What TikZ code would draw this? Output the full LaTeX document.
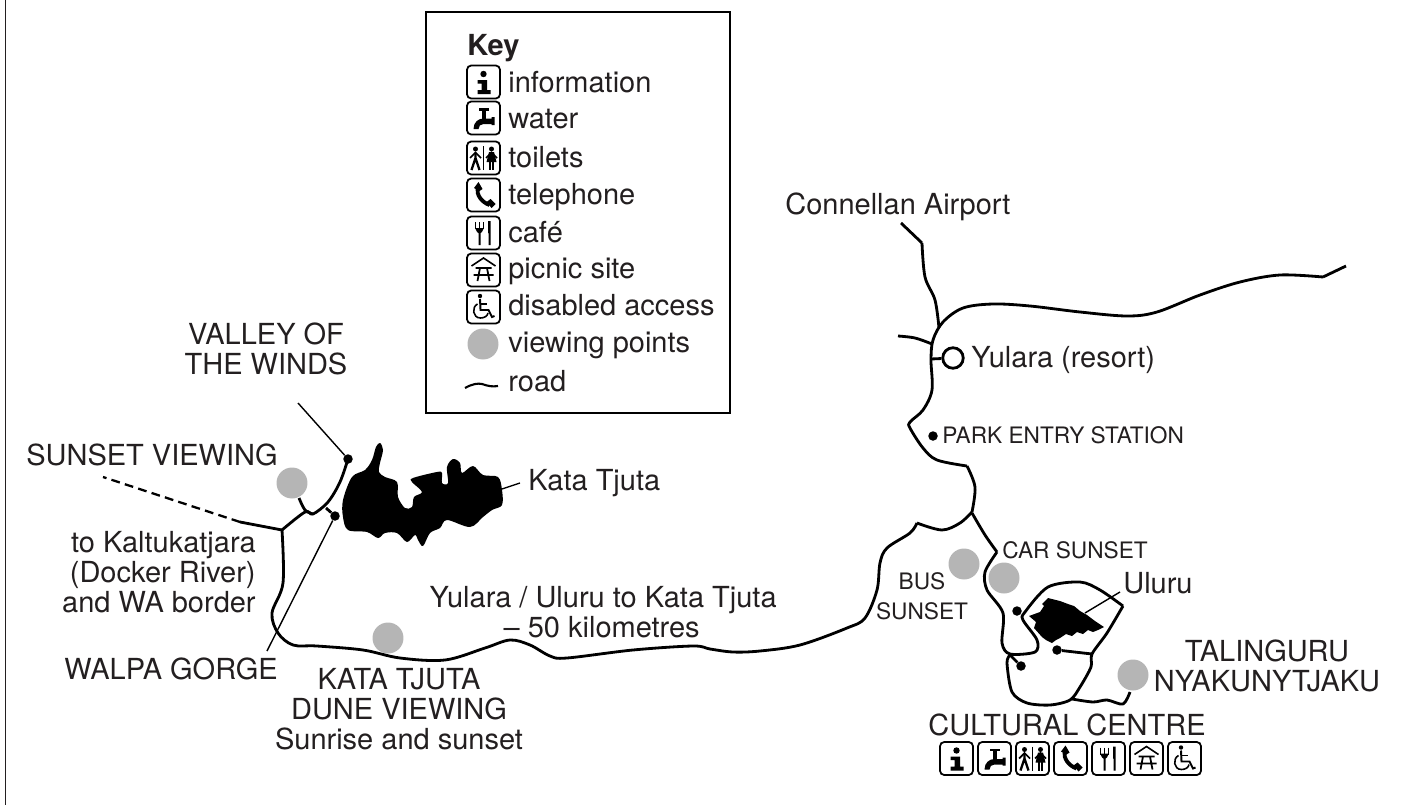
\documentclass[tikz,border=0pt]{standalone}
\usepackage{fontspec}
\setmainfont{TeX Gyre Heros}
\definecolor{inkc}{HTML}{231F20}
\definecolor{viewc}{HTML}{B5B5B5}

\tikzset{
  lbl/.style={inner sep=0pt, text=inkc, font=\fontsize{16.5}{17}\selectfont},
  lblsmall/.style={inner sep=0pt, text=inkc, font=\fontsize{12.9}{17}\selectfont},
  road/.style={line width=1.6pt, black, line join=round},
  leader/.style={line width=.8pt, black},
  viewpt/.style={circle, fill=viewc, inner sep=0pt, minimum size=.62cm},
  dotpt/.style={circle, fill=black, inner sep=0pt, minimum size=.19cm},
  iconframe/.style={line width=1pt, rounded corners=2.4pt},
  pics/iconinfo/.style={code={
    \draw[iconframe] (-16.5,-16.5) rectangle (16.5,16.5);
    \fill (0,-8) circle [radius=3.2];
    \fill (-6,-2) -- (3.5,-2) -- (3.5,8) -- (7,8) -- (7,12) -- (-6,12) -- (-6,8) -- (-2,8) -- (-2,1.5) -- (-6,1.5) -- cycle;
  }},
  pics/iconwater/.style={code={
    \draw[iconframe] (-16.5,-16.5) rectangle (16.5,16.5);
    \fill (-4.5,-10) rectangle (5.5,-7.5);
    \fill (-1.5,-8) rectangle (2.5,2);
    \fill (11,-1) -- (11,7) -- (8,7) -- (8,6) -- (0,6) .. controls (-3,6) and (-5,8) .. (-5,11) -- (-10,11) .. controls (-10,4) and (-5,0.5) .. (0,0.5) -- (8,0.5) -- (8,-1) -- cycle;
  }},
  pics/icontoilets/.style={code={
    \draw[iconframe] (-16.5,-16.5) rectangle (16.5,16.5);
    \draw[line width=1pt] (0,-12) -- (0,12);
    \fill (-8,-9) circle [radius=2.5];
    \fill (8,-9) circle [radius=2.5];
    \draw[line width=1pt] (-13.5,0) -- (-8,-5.5) -- (-2.5,0);
    \draw[line width=1.3pt] (-8,-5.5) -- (-8,0) -- (-12,12) (-8,0) -- (-4,12);
    \draw[line width=1pt] (2.5,0) -- (8,-5.5) -- (13.5,0);
    \fill (5.5,-6) -- (10.5,-6) -- (13,4) -- (3,4) -- cycle;
    \draw[line width=1.3pt] (6.5,3) -- (6.5,12) (9.5,3) -- (9.5,12);
  }},
  pics/iconphone/.style={code={
    \draw[iconframe] (-16.5,-16.5) rectangle (16.5,16.5);
    \draw[line width=2.2pt] (-6,-7) .. controls (-7,0) and (-2,7) .. (6,10);
    \fill (-9.5,-7) -- (-5,-13) -- (-1,-6) -- (-4,-4) -- cycle;
    \fill (3,7) -- (7,4) -- (12,9) -- (8,13) -- cycle;
  }},
  pics/iconcafe/.style={code={
    \draw[iconframe] (-16.5,-16.5) rectangle (16.5,16.5);
    \draw[line width=.8pt] (-8,-11) -- (-8,-4) (-4,-11) -- (-4,-4) (0,-11) -- (0,-4);
    \fill (-8.4,-5) -- (0.4,-5) -- (-1.5,-1) -- (-3,0) -- (-3,12) -- (-5,12) -- (-5,0) -- (-6.5,-1) -- cycle;
    \fill (4.5,-12) -- (7,-12) -- (7,12) -- (5,12) -- (5,0) -- (4.5,0) -- cycle;
  }},
  pics/iconpicnic/.style={code={
    \draw[iconframe] (-16.5,-16.5) rectangle (16.5,16.5);
    \draw[line width=.9pt] (-12,-4) -- (0,-12) -- (12,-4);
    \draw[line width=1pt] (-8,-2) -- (8,-2) (-10,5) -- (10,5) (-3.5,-2) -- (-6,11) (3.5,-2) -- (6,11);
  }},
  pics/icondisabled/.style={code={
    \draw[iconframe] (-16.5,-16.5) rectangle (16.5,16.5);
    \fill (-3.5,-11) circle [radius=2.2];
    \draw[line width=1.1pt] (-3.5,-8) -- (-3,3) -- (5,3) -- (8.5,10) -- (11,9);
    \draw[line width=.9pt] (-3,-3) -- (3,-3);
    \draw[line width=.9pt] (-6,-3) .. controls (-12,0) and (-11,11) .. (-3,11) .. controls (1,11) and (4,9) .. (4.5,6);
  }}
}

\begin{document}
\begin{tikzpicture}[x=.02cm, y=-.02cm]
\useasboundingbox (0,0) rectangle (1401,805);

\draw[line width=1.1pt, inkc] (5.5,0) -- (5.5,805);

% key
\draw[line width=1.2pt, black] (426,12) rectangle (730,413);
\node[lbl, anchor=base west, font=\fontsize{16.5}{17}\bfseries] (keytitle) at (467,55) {Key};

\foreach \icon/\yi/\yt/\txt in {iconinfo/82/92/information, iconwater/118/128/water, icontoilets/158/167/toilets, iconphone/195/204/telephone, iconcafe/233/242/café, iconpicnic/270/278/picnic site, icondisabled/307/315/disabled access}
{
\pic at (483.5,\yi) {\icon};
\node[lbl, anchor=base west] (key-\icon) at (508,\yt) {\txt};
}

\node[viewpt] (keyview) at (483,344) {};
\node[lbl, anchor=base west] (key-view) at (508,352) {viewing points};
\draw[line width=1.2pt] (465,388) .. controls (472,384) and (478,383) .. (482,384) .. controls (488,386) and (492,387) .. (498,386);
\node[lbl, anchor=base west] (key-road) at (508,391) {road};

% viewing points
\node[viewpt] (vpsunset) at (292,483) {};
\node[viewpt] (vpdune) at (388,638) {};
\node[viewpt] (vpbus) at (964,564) {};
\node[viewpt] (vpcar) at (1004,578) {};
\node[viewpt] (vptalin) at (1133,675) {};

% rocks
\fill plot[smooth cycle, tension=.55] coordinates {(380,443) (383,450) (380,463) (379,472) (385,477) (397,482) (398,497) (405,508) (412,507) (414,497) (422,492) (412,482) (413,478) (437,472) (442,473) (442,483) (448,483) (447,467) (453,459) (460,463) (462,473) (473,466) (483,475) (498,477) (502,490) (502,505) (492,510) (483,517) (470,527) (447,520) (440,528) (430,533) (423,546) (418,540) (415,535) (407,542) (397,533) (385,533) (378,538) (367,532) (348,530) (343,517) (343,500) (352,477) (365,470) (372,460) (376,447)};

\fill[line join=round] (1029,616) -- (1040,612) -- (1044,606) -- (1042,604) -- (1048,598) -- (1056,600) -- (1060,601) -- (1068,604) -- (1074,606) -- (1080,611) -- (1087,615) -- (1095,621) -- (1104,627) -- (1098,630) -- (1093,632) -- (1088,630) -- (1083,634) -- (1077,632) -- (1072,636) -- (1066,634) -- (1060,638) -- (1056,640) -- (1052,643) -- (1046,640) -- (1042,637) -- (1034,628) -- (1036,622) -- cycle;

% roads
\draw[road] plot[smooth, tension=.55] coordinates {(1346,266) (1323,277)};
\draw[road] plot[smooth, tension=.55] coordinates {(1323,277) (1280,275) (1240,282) (1200,295) (1157,312) (1127,316) (1080,312) (1030,306) (993,304) (963,308) (943,322) (933,340) (931,360) (932,390) (923,410) (910,422) (910,428) (923,448) (937,460) (967,466)};
\draw[road] plot[smooth, tension=.55] coordinates {(967,466) (975,487) (972,512)};
\draw[road] plot[smooth, tension=.55] coordinates {(901,223) (922,243)};
\draw[road] plot[smooth, tension=.55] coordinates {(922,243) (925,277) (935,300) (939,328)};
\draw[road] plot[smooth, tension=.55] coordinates {(898,336) (915,338) (932,344)};
\draw[road] plot[smooth, tension=.55] coordinates {(972,512) (960,523) (942,530) (917,523)};
\draw[road] plot[smooth, tension=.55] coordinates {(917,523) (910,533) (887,548) (880,563) (877,590) (865,618) (847,628) (800,645) (760,651) (733,652) (710,649) (693,646) (633,650) (567,658) (550,656) (530,645) (510,640) (485,648) (445,660) (400,658) (363,650) (317,646) (293,645) (278,633) (272,613) (283,583) (282,530)};
\draw[road] (282,530) -- (240,522);
\draw[line width=1.3pt, dash pattern=on 5pt off 3pt] (240,522) -- (103,477);
\draw[road] plot[smooth, tension=.55] coordinates {(282,530) (305,512) (313,514) (328,502) (340,482) (348,459)};
\draw[road] plot[smooth, tension=.55] coordinates {(299,498) (305,510) (313,514)};

\draw[road] plot[smooth, tension=.5] coordinates {(972,513) (985,535) (997,552)};
\draw[road] plot[smooth, tension=.5] coordinates {(997,552) (985,572) (987,590) (1003,613) (1002,643) (1010,654) (1035,652) (1037,640) (1023,620) (1025,612) (1048,587) (1080,582) (1100,590) (1123,606)};
\draw[road] plot[smooth, tension=.5] coordinates {(1123,606) (1107,633) (1092,654) (1091,667) (1080,687) (1070,700) (1050,705) (1027,703) (1012,692) (1007,663) (1010,655)};
\draw[road] plot[smooth, tension=.5] coordinates {(1072,699) (1093,702) (1107,700) (1123,704) (1130,692)};

% stops
\node[dotpt] (valleydot) at (348,459) {};
\node[dotpt] (walpadot) at (335,516) {};
\node[dotpt] (entrydot) at (933,436) {};
\node[dotpt] (uldot) at (1017,611) {};
\node[dotpt] (centredot) at (1021,666) {};
\node[dotpt] (sunrisedot) at (1057,650) {};
\node[circle, draw=black, fill=white, line width=1.6pt, inner sep=0pt, minimum size=.41cm] (yulara) at (953,358) {};

\coordinate (walpajoin) at (326,508);
\coordinate (entryjoin) at (931,359);
\coordinate (centrejoin) at (1010,655);
\coordinate (sunrisejoin) at (1092,654);
\draw[road] (walpajoin) -- (walpadot);
\draw[road] (entryjoin) -- (yulara);
\draw[road] (centrejoin) -- (centredot);
\draw[road] (sunrisedot) -- (sunrisejoin);

% labels
\node[lbl, anchor=base west] (airport) at (785,214) {Connellan Airport};
\node[lbl, anchor=base west] (resort) at (971,367) {Yulara (resort)};
\node[lblsmall, anchor=base west] (entry) at (942,443) {PARK ENTRY STATION};
\node[lbl, align=center] (valley) at (266,349) {VALLEY OF\\THE WINDS};
\node[lbl, anchor=base west] (sunset) at (26,465) {SUNSET VIEWING};
\node[lbl, align=right, anchor=east] (tokalt) at (256,572) {to Kaltukatjara\\(Docker River)\\and WA border};
\node[lbl, anchor=base east] (walpa) at (278,679) {WALPA GORGE};
\node[lbl, anchor=base west] (katatjuta) at (528,490) {Kata Tjuta};
\node[lbl, anchor=base east] (distance) at (777,607) {Yulara / Uluru to Kata Tjuta};
\node[lbl, anchor=base east] (distkm) at (700,637) {-- 50 kilometres};
\node[lbl, align=center] (dune) at (399,709) {KATA TJUTA\\DUNE VIEWING\\Sunrise and sunset};
\node[lblsmall, anchor=base west] (carsun) at (1002,558) {CAR SUNSET};
\node[lblsmall, align=center] (bussun) at (922,596) {BUS\\SUNSET};
\node[lbl, anchor=base west] (uluru) at (1123,593) {Uluru};
\node[lbl, align=center] (talin) at (1267,666) {TALINGURU\\NYAKUNYTJAKU};
\node[lbl, anchor=base] (centre) at (1067,735) {CULTURAL CENTRE};

% leader lines
\coordinate (valleyend) at (298,403);
\coordinate (walpaend) at (267,651);
\coordinate (katatip) at (502,489);
\coordinate (katalbl) at (520,483);
\coordinate (ulurock) at (1085,613);
\coordinate (ululbl) at (1120,592);
\draw[leader] (valleyend) -- (valleydot);
\draw[leader] (walpaend) -- (walpadot);
\draw[leader] (katatip) -- (katalbl);
\draw[leader] (ulurock) -- (ululbl);

% facilities at the centre
\foreach \icon [count=\i from 0] in {iconinfo, iconwater, icontoilets, iconphone, iconcafe, iconpicnic, icondisabled}
\pic at ({956.5+38*\i},758.5) {\icon};

\end{tikzpicture}
\end{document}
